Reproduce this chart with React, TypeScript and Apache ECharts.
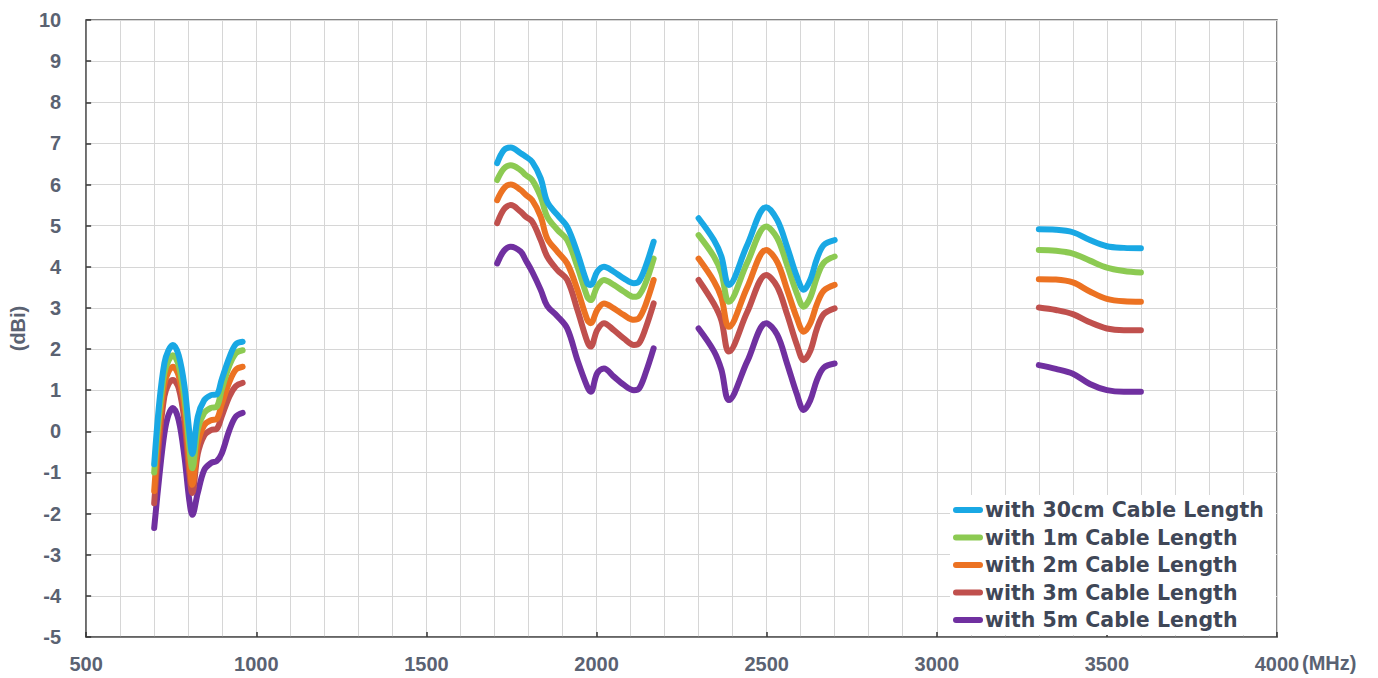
import React, { useEffect, useRef } from "react";
import * as echarts from "echarts";

const seriesNames = [
  "with 30cm Cable Length",
  "with 1m Cable Length",
  "with 2m Cable Length",
  "with 3m Cable Length",
  "with 5m Cable Length",
];
const seriesColors = ["#19a8e4", "#8cca52", "#ec7222", "#c0504d", "#7030a0"];

const freqBand1 = [700, 715, 730, 742, 755, 772, 789, 803, 812, 828, 847, 867, 884, 898, 921, 940, 960];
const freqBand2 = [1708, 1728, 1748, 1777, 1792, 1811, 1836, 1855, 1885, 1914, 1944, 1973, 1983, 2002, 2022, 2051, 2080, 2110, 2125, 2144, 2168];
const freqBand3 = [2300, 2345, 2367, 2389, 2443, 2499, 2531, 2560, 2589, 2609, 2628, 2648, 2668, 2700];
const freqBand4 = [3300, 3350, 3400, 3450, 3500, 3550, 3600];

// 30cm
const cable30cmBand1 = [-0.8, 0.7, 1.66, 1.97, 2.1, 1.85, 1.1, 0.0, -0.55, 0.36, 0.76, 0.88, 0.9, 1.25, 1.8, 2.12, 2.18];
const cable30cmBand2 = [6.52, 6.84, 6.9, 6.76, 6.68, 6.55, 6.15, 5.58, 5.26, 4.97, 4.33, 3.6, 3.56, 3.88, 4.0, 3.88, 3.72, 3.6, 3.65, 4.0, 4.61];
const cable30cmBand3 = [5.18, 4.65, 4.25, 3.56, 4.53, 5.45, 5.14, 4.49, 3.76, 3.44, 3.68, 4.2, 4.53, 4.65];
const cable30cmBand4 = [4.91, 4.9, 4.84, 4.65, 4.5, 4.46, 4.45];
// 1m
const cable1mBand1 = [-1.0, 0.45, 1.42, 1.72, 1.85, 1.6, 0.8, -0.35, -0.9, 0.05, 0.45, 0.57, 0.6, 1.0, 1.6, 1.9, 1.97];
const cable1mBand2 = [6.11, 6.39, 6.47, 6.35, 6.23, 6.11, 5.7, 5.22, 4.9, 4.65, 4.0, 3.27, 3.19, 3.52, 3.68, 3.56, 3.4, 3.27, 3.31, 3.6, 4.2];
const cable1mBand3 = [4.77, 4.25, 3.85, 3.15, 4.1, 4.98, 4.7, 4.05, 3.35, 3.03, 3.25, 3.75, 4.1, 4.25];
const cable1mBand4 = [4.41, 4.39, 4.32, 4.15, 3.98, 3.9, 3.86];
// 2m
const cable2mBand1 = [-1.45, 0.15, 1.15, 1.45, 1.57, 1.35, 0.55, -0.7, -1.3, -0.3, 0.15, 0.27, 0.3, 0.65, 1.2, 1.5, 1.57];
const cable2mBand2 = [5.62, 5.91, 6.0, 5.87, 5.75, 5.62, 5.22, 4.69, 4.37, 4.08, 3.44, 2.71, 2.63, 2.95, 3.11, 2.99, 2.83, 2.71, 2.75, 3.07, 3.68];
const cable2mBand3 = [4.2, 3.65, 3.25, 2.54, 3.5, 4.41, 4.12, 3.45, 2.75, 2.42, 2.62, 3.1, 3.42, 3.56];
const cable2mBand4 = [3.7, 3.69, 3.62, 3.4, 3.22, 3.16, 3.15];
// 3m
const cable3mBand1 = [-1.75, -0.2, 0.85, 1.15, 1.25, 1.05, 0.25, -1.0, -1.5, -0.55, -0.1, 0.03, 0.06, 0.35, 0.85, 1.1, 1.18];
const cable3mBand2 = [5.06, 5.4, 5.5, 5.34, 5.22, 5.1, 4.65, 4.25, 3.92, 3.68, 2.95, 2.18, 2.06, 2.46, 2.63, 2.46, 2.26, 2.1, 2.14, 2.5, 3.11];
const cable3mBand3 = [3.68, 3.1, 2.7, 1.94, 2.9, 3.8, 3.52, 2.85, 2.1, 1.73, 1.95, 2.5, 2.85, 2.99];
const cable3mBand4 = [3.01, 2.95, 2.85, 2.65, 2.5, 2.46, 2.46];
// 5m
const cable5mBand1 = [-2.35, -1.1, -0.05, 0.4, 0.57, 0.27, -0.62, -1.67, -2.03, -1.5, -0.94, -0.77, -0.72, -0.55, 0.03, 0.36, 0.45];
const cable5mBand2 = [4.08, 4.39, 4.49, 4.37, 4.16, 3.88, 3.44, 3.05, 2.8, 2.5, 1.73, 1.08, 0.96, 1.41, 1.53, 1.33, 1.13, 1.0, 1.04, 1.41, 2.02];
const cable5mBand3 = [2.5, 1.95, 1.5, 0.76, 1.7, 2.63, 2.35, 1.65, 0.9, 0.52, 0.75, 1.25, 1.55, 1.65];
const cable5mBand4 = [1.61, 1.52, 1.4, 1.15, 1.0, 0.96, 0.96];

const bandFreqs = [freqBand1, freqBand2, freqBand3, freqBand4];
const seriesBands = [
  [cable30cmBand1, cable30cmBand2, cable30cmBand3, cable30cmBand4],
  [cable1mBand1, cable1mBand2, cable1mBand3, cable1mBand4],
  [cable2mBand1, cable2mBand2, cable2mBand3, cable2mBand4],
  [cable3mBand1, cable3mBand2, cable3mBand3, cable3mBand4],
  [cable5mBand1, cable5mBand2, cable5mBand3, cable5mBand4],
];

const xTickMin = 500;
const xTickMax = 4000;
const yTickMin = -5;
const yTickMax = 10;

function buildData(bands: number[][]) {
  const out: any[] = [];
  bands.forEach((vals, bi) => {
    const f = bandFreqs[bi];
    if (bi > 0) out.push([f[0] - 50, "-"]);
    vals.forEach((v, i) => out.push([f[i], v]));
  });
  return out;
}

const labelColor = "#5a6272";
const labelFont = "'Liberation Sans', Arial, sans-serif";

export default function App() {
  const ref = useRef<HTMLDivElement>(null);
  useEffect(() => {
    if (!ref.current) return;
    const chart = echarts.init(ref.current, null, { renderer: "svg" });
    chart.setOption({
      animation: false,
      backgroundColor: "#ffffff",
      grid: {
        left: 85,
        right: 101,
        top: 20,
        bottom: 41,
        show: true,
        borderColor: "#5b5b5b",
        borderWidth: 1.5,
        backgroundColor: "transparent",
      },
      xAxis: {
        type: "value",
        min: xTickMin,
        max: xTickMax,
        interval: 500,
        axisLine: { show: true, onZero: false, lineStyle: { color: "#5b5b5b", width: 1.5 } },
        axisTick: { show: true, inside: true, length: 5, lineStyle: { color: "#333", width: 1.5 } },
        axisLabel: {
          fontSize: 20,
          fontWeight: "bold",
          fontFamily: labelFont,
          color: labelColor,
          margin: 17,
          formatter: (v: number) => String(v),
        },
        splitLine: { show: true, lineStyle: { color: "#d6d6d6", width: 1 } },
        minorTick: { show: false, splitNumber: 5 },
        minorSplitLine: { show: true, lineStyle: { color: "#d6d6d6", width: 1 } },
      },
      yAxis: {
        type: "value",
        min: yTickMin,
        max: yTickMax,
        interval: 1,
        name: "(dBi)",
        nameLocation: "middle",
        nameGap: 55,
        nameRotate: 90,
        nameTextStyle: {
          fontSize: 20,
          fontWeight: "bold",
          fontFamily: labelFont,
          color: labelColor,
        },
        axisLine: { show: true, onZero: false, lineStyle: { color: "#5b5b5b", width: 1.5 } },
        axisTick: { show: true, inside: true, length: 5, lineStyle: { color: "#333", width: 1.5 } },
        axisLabel: {
          fontSize: 20,
          fontWeight: "bold",
          fontFamily: labelFont,
          color: labelColor,
          margin: 25,
        },
        splitLine: { show: true, lineStyle: { color: "#d6d6d6", width: 1 } },
      },
      legend: {
        orient: "vertical",
        left: 950,
        top: 495,
        itemWidth: 30,
        itemHeight: 6,
        itemGap: 5.5,
        padding: [4, 12, 4, 3],
        backgroundColor: "#ffffff",
        icon: "path://M3,0 L27,0 A3,3 0 0 1 27,6 L3,6 A3,3 0 0 1 3,0 Z",
        data: seriesNames,
        textStyle: {
          fontFamily: "'DejaVu Sans', sans-serif",
          fontWeight: "bold",
          fontSize: 20.5,
          lineHeight: 22,
          color: "#3f4757",
          padding: [0, 0, 0, -3],
        },
      },
      graphic: [
        {
          type: "text",
          left: 1302,
          top: 653,
          style: {
            text: "(MHz)",
            fontSize: 20,
            fontWeight: "bold",
            fontFamily: labelFont,
            fill: labelColor,
          },
        },
      ],
      series: seriesNames.map((name, i) => ({
        name,
        type: "line",
        data: buildData(seriesBands[i]),
        showSymbol: false,
        symbol: "none",
        smooth: 0.35,
        connectNulls: false,
        color: seriesColors[i],
        lineStyle: { width: 6, color: seriesColors[i], cap: "round", join: "round" },
        z: 10 - i,
      })),
    });
    return () => chart.dispose();
  }, []);
  return (
    <div
      ref={ref}
      style={{ position: "absolute", left: 0, top: 0, width: 1378, height: 678 }}
    />
  );
}
